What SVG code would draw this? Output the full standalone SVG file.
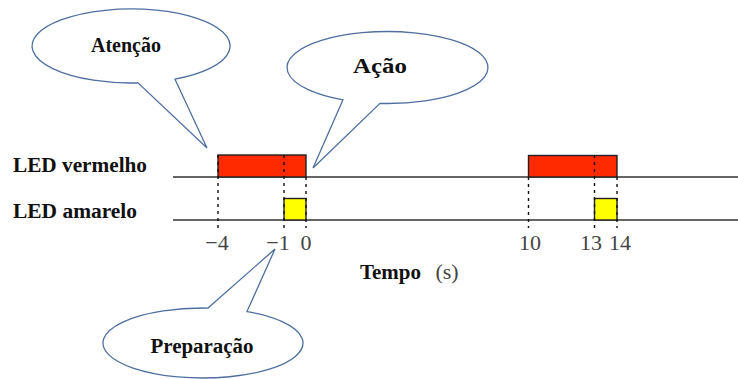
<svg xmlns="http://www.w3.org/2000/svg" width="738" height="379" viewBox="0 0 738 379">
<style>
.bub{fill:#fff;stroke:#4f6fa0;stroke-width:1.3;stroke-linejoin:miter}
.lbl{font-family:"Liberation Serif","Times New Roman",serif;font-weight:bold;fill:#111}
.num{font-family:"Liberation Serif","Times New Roman",serif;font-size:22px;fill:#444;text-anchor:middle}
.axis{stroke:#333;stroke-width:1.4;fill:none}
.dot{stroke:#111;stroke-width:1.4;stroke-dasharray:3 4;fill:none}
.red{fill:#ff2a00;stroke:#222;stroke-width:1.4}
.yel{fill:#ffff00;stroke:#222;stroke-width:1.4}
</style>
<rect width="738" height="379" fill="#fff"/>
<g id="axes">
<line class="axis" x1="173" y1="177" x2="738" y2="177"/>
<line class="axis" x1="173" y1="220" x2="738" y2="220"/>
</g>
<g id="red-pulses">
<rect class="red" x="218" y="155" width="88" height="22"/>
<rect class="red" x="528.5" y="155.5" width="88.5" height="21.5"/>
</g>
<g id="yellow-pulses">
<rect class="yel" x="284" y="198.5" width="22" height="21.5"/>
<rect class="yel" x="594.5" y="198.5" width="22.5" height="21.5"/>
</g>
<g id="connectors">
<line class="dot" x1="218" y1="155" x2="218" y2="228"/>
<line class="dot" x1="284" y1="155" x2="284" y2="228"/>
<line class="dot" x1="306" y1="177" x2="306" y2="228"/>
<line class="dot" x1="528.5" y1="177" x2="528.5" y2="228"/>
<line class="dot" x1="594.5" y1="155" x2="594.5" y2="228"/>
<line class="dot" x1="617" y1="177" x2="617" y2="228"/>
</g>
<g id="labels">
<text class="lbl" x="13" y="172" font-size="20" textLength="134" lengthAdjust="spacingAndGlyphs">LED vermelho</text>
<text class="lbl" x="13" y="218" font-size="20" textLength="124" lengthAdjust="spacingAndGlyphs">LED amarelo</text>
<text class="num" x="217" y="250">−4</text>
<text class="num" x="278" y="250">−1</text>
<text class="num" x="306" y="250">0</text>
<text class="num" x="530" y="250">10</text>
<text class="num" x="591" y="250">13</text>
<text class="num" x="620" y="250">14</text>
<text class="lbl" x="360" y="279" font-size="20" textLength="61" lengthAdjust="spacingAndGlyphs">Tempo</text>
<text class="num" x="447" y="279">(s)</text>
</g>
<g id="atencao">
<path class="bub" d="M138,82.9 A99,37 0 1 1 175,79.15 L207,148 Z"/>
<text class="lbl" x="126" y="52" font-size="20" text-anchor="middle">Atenção</text>
</g>
<g id="acao">
<path class="bub" d="M343,99.78 A100.5,36 0 1 1 380,103.4 L313,168 Z"/>
<text class="lbl" x="380" y="73" font-size="20" text-anchor="middle" textLength="54" lengthAdjust="spacingAndGlyphs">Ação</text>
</g>
<g id="preparacao">
<path class="bub" d="M247,311.57 A100,35 0 1 1 208,308.04 L275,249 Z"/>
<text class="lbl" x="202" y="353" font-size="20" text-anchor="middle" textLength="103" lengthAdjust="spacingAndGlyphs">Preparação</text>
</g>
</svg>
